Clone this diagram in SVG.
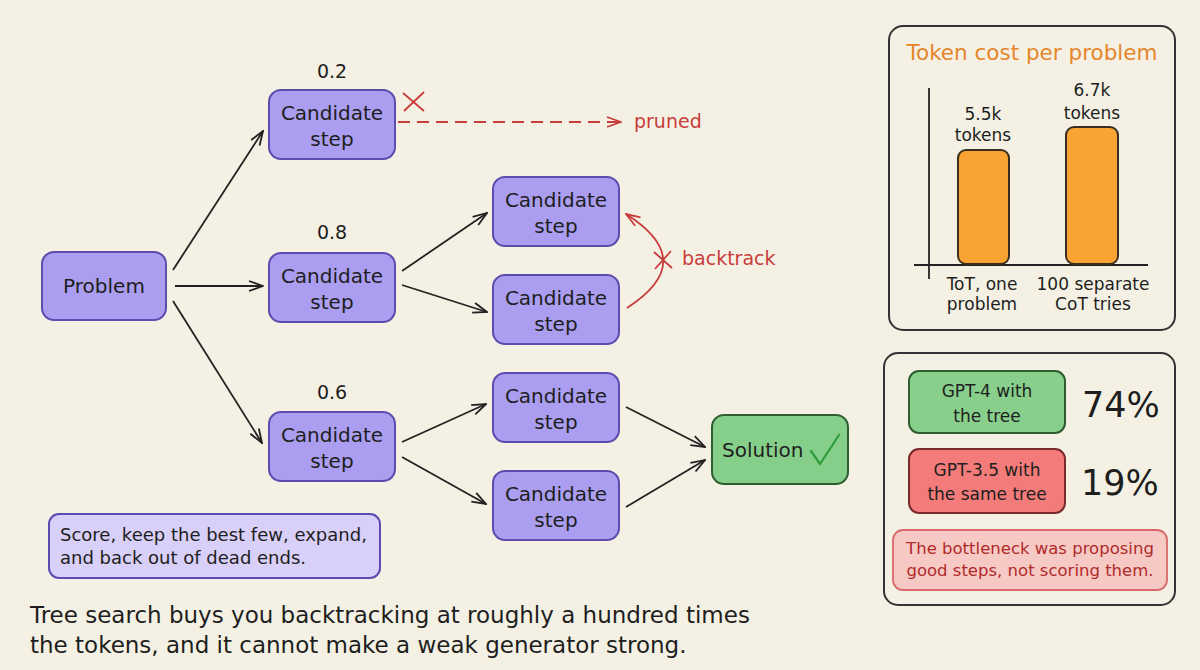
<svg xmlns="http://www.w3.org/2000/svg" width="1200" height="670" viewBox="0 0 1200 670">
<style>
text{font-family:"DejaVu Sans","Liberation Sans",sans-serif;fill:#1e1e1e}
.node{fill:#ab9ef0;stroke:#5c4cae;stroke-width:2}
.lbl{font-size:20px;text-anchor:middle}
.score{font-size:19px;text-anchor:middle}
.edge{fill:none;stroke:#222;stroke-width:1.8;marker-end:url(#arr)}
.red{fill:none;stroke:#c93c3c;stroke-width:1.8}
.panel{fill:none;stroke:#333;stroke-width:2}
.small{font-size:17px;text-anchor:middle}
.bar{fill:#f9a332;stroke:#3a2e1e;stroke-width:2}
</style>
<defs>
<marker id="arr" viewBox="0 0 16 12" refX="15" refY="6" markerWidth="16" markerHeight="12" markerUnits="userSpaceOnUse" orient="auto">
<path d="M1,1 L15,6 L1,11" fill="none" stroke="#222" stroke-width="1.8"/>
</marker>
<marker id="arrR" viewBox="0 0 16 12" refX="15" refY="6" markerWidth="16" markerHeight="12" markerUnits="userSpaceOnUse" orient="auto">
<path d="M1,1 L15,6 L1,11" fill="none" stroke="#c93c3c" stroke-width="1.8"/>
</marker>
</defs>
<rect width="1200" height="670" fill="#f4f1e4"/>

<g id="connectors">
<line class="edge" x1="173" y1="270" x2="263" y2="131"/>
<line class="edge" x1="175" y1="286" x2="263" y2="286"/>
<line class="edge" x1="173" y1="301" x2="262" y2="443"/>
<line class="edge" x1="402" y1="271" x2="487" y2="213"/>
<line class="edge" x1="402" y1="285" x2="487" y2="312"/>
<line class="edge" x1="402" y1="442" x2="486" y2="404"/>
<line class="edge" x1="402" y1="457" x2="486" y2="504"/>
<line class="edge" x1="626" y1="407" x2="705" y2="447"/>
<line class="edge" x1="626" y1="507" x2="705" y2="460"/>
<line class="red" x1="398" y1="122" x2="621" y2="122" stroke-dasharray="12 7" marker-end="url(#arrR)"/>
<path class="red" d="M403,93 L424,111 M424,92 L404,111"/>
<path class="red" d="M627,308 Q700,261 626,214" marker-end="url(#arrR)"/>
<path class="red" d="M654,252 L672,268 M671,251 L655,269"/>
<text x="634" y="128" style="font-size:19px;fill:#c93c3c">pruned</text>
<text x="682" y="265" style="font-size:19px;fill:#c93c3c">backtrack</text>
</g>

<g id="problem">
<rect class="node" x="42" y="252" width="124" height="68" rx="12"/>
<text class="lbl" x="104" y="293">Problem</text>
</g>

<g id="cand-1">
<text class="score" x="332" y="78">0.2</text>
<rect class="node" x="269" y="90" width="126" height="69" rx="12"/>
<text class="lbl" x="332" y="120">Candidate</text>
<text class="lbl" x="332" y="146">step</text>
</g>
<g id="cand-2">
<text class="score" x="332" y="239">0.8</text>
<rect class="node" x="269" y="253" width="126" height="69" rx="12"/>
<text class="lbl" x="332" y="283">Candidate</text>
<text class="lbl" x="332" y="309">step</text>
</g>
<g id="cand-3">
<text class="score" x="332" y="399">0.6</text>
<rect class="node" x="269" y="412" width="126" height="69" rx="12"/>
<text class="lbl" x="332" y="442">Candidate</text>
<text class="lbl" x="332" y="468">step</text>
</g>
<g id="cand-2a">
<rect class="node" x="493" y="177" width="126" height="69" rx="12"/>
<text class="lbl" x="556" y="207">Candidate</text>
<text class="lbl" x="556" y="233">step</text>
</g>
<g id="cand-2b">
<rect class="node" x="493" y="275" width="126" height="69" rx="12"/>
<text class="lbl" x="556" y="305">Candidate</text>
<text class="lbl" x="556" y="331">step</text>
</g>
<g id="cand-3a">
<rect class="node" x="493" y="373" width="126" height="69" rx="12"/>
<text class="lbl" x="556" y="403">Candidate</text>
<text class="lbl" x="556" y="429">step</text>
</g>
<g id="cand-3b">
<rect class="node" x="493" y="471" width="126" height="69" rx="12"/>
<text class="lbl" x="556" y="501">Candidate</text>
<text class="lbl" x="556" y="527">step</text>
</g>

<g id="solution">
<rect x="712" y="415" width="136" height="69" rx="12" fill="#86cf8a" stroke="#2d5e30" stroke-width="2"/>
<text x="722" y="457" style="font-size:20px">Solution</text>
<path d="M811,451 L820,464 L839,435" fill="none" stroke="#2e9e3a" stroke-width="2.2" stroke-linecap="round" stroke-linejoin="round"/>
</g>

<g id="note">
<rect x="49" y="514" width="331" height="64" rx="10" fill="#d8d0f8" stroke="#5b4bb0" stroke-width="2"/>
<text x="60" y="541" style="font-size:18px">Score, keep the best few, expand,</text>
<text x="60" y="564" style="font-size:18px">and back out of dead ends.</text>
</g>

<g id="caption">
<text x="30" y="623" style="font-size:23px">Tree search buys you backtracking at roughly a hundred times</text>
<text x="30" y="653" style="font-size:23px">the tokens, and it cannot make a weak generator strong.</text>
</g>

<g id="cost-chart">
<rect class="panel" x="889" y="26" width="286" height="304" rx="14"/>
<text x="1032" y="60" style="font-size:21.5px;text-anchor:middle;fill:#e5862b">Token cost per problem</text>
<line x1="929" y1="88" x2="929" y2="279" stroke="#222" stroke-width="1.8"/>
<line x1="914" y1="265" x2="1148" y2="265" stroke="#222" stroke-width="1.8"/>
<rect class="bar" x="958" y="150" width="51" height="114" rx="8"/>
<rect class="bar" x="1066" y="127" width="52" height="137" rx="8"/>
<text class="small" x="983" y="120">5.5k</text>
<text class="small" x="983" y="141">tokens</text>
<text class="small" x="1092" y="96">6.7k</text>
<text class="small" x="1092" y="119">tokens</text>
<text class="small" x="982" y="290">ToT, one</text>
<text class="small" x="982" y="310">problem</text>
<text class="small" x="1093" y="290">100 separate</text>
<text class="small" x="1093" y="310">CoT tries</text>
</g>

<g id="results">
<rect class="panel" x="884" y="353" width="291" height="252" rx="14"/>
<rect x="909" y="371" width="156" height="62" rx="10" fill="#88cf8b" stroke="#2d5e30" stroke-width="2"/>
<text x="987" y="397" style="font-size:17px;text-anchor:middle">GPT-4 with</text>
<text x="987" y="422" style="font-size:17px;text-anchor:middle">the tree</text>
<text x="1082" y="417" style="font-size:35px">74%</text>
<rect x="909" y="449" width="156" height="64" rx="10" fill="#f37c7a" stroke="#7a2a2a" stroke-width="2"/>
<text x="987" y="476" style="font-size:17px;text-anchor:middle">GPT-3.5 with</text>
<text x="987" y="500" style="font-size:17px;text-anchor:middle">the same tree</text>
<text x="1081" y="495" style="font-size:35px">19%</text>
<rect x="893" y="530" width="274" height="60" rx="10" fill="#f7c9c4" stroke="#d9686a" stroke-width="1.8"/>
<text x="1030" y="554" style="font-size:16.5px;text-anchor:middle;fill:#b02a2a">The bottleneck was proposing</text>
<text x="1030" y="576" style="font-size:16.5px;text-anchor:middle;fill:#b02a2a">good steps, not scoring them.</text>
</g>
</svg>
